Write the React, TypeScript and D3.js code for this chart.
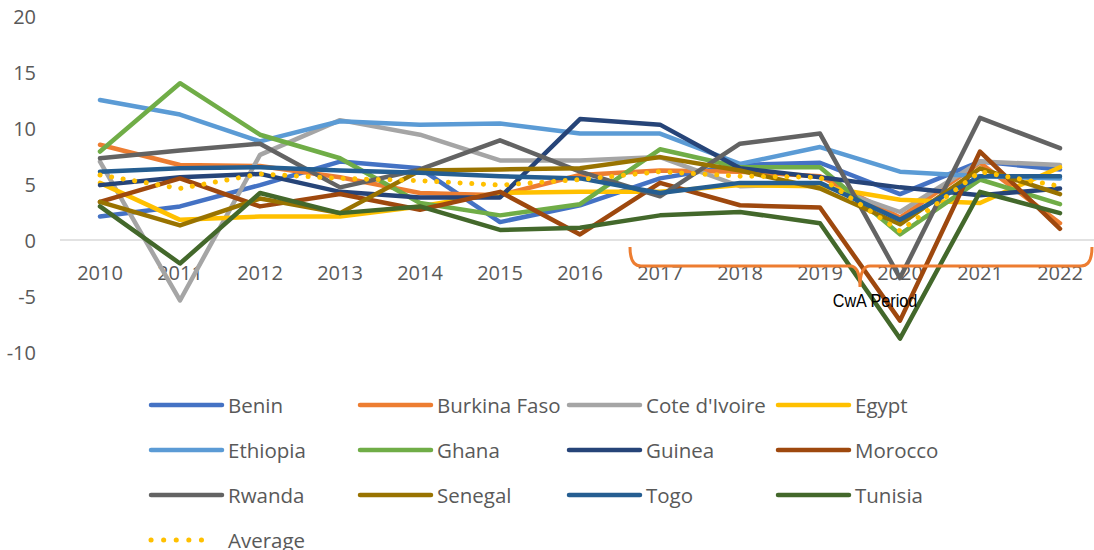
import React from 'react';
import * as d3 from 'd3';

const years = ['2010', '2011', '2012', '2013', '2014', '2015', '2016', '2017', '2018', '2019', '2020', '2021', '2022'];
const yTicks = [-10, -5, 0, 5, 10, 15, 20];

const benin = [2.1, 3.0, 4.9, 7.0, 6.4, 1.6, 3.1, 5.5, 6.7, 6.9, 4.1, 7.0, 6.3];
const burkinaFaso = [8.5, 6.7, 6.6, 5.6, 4.2, 4.0, 5.8, 6.2, 6.1, 5.7, 2.0, 6.9, 1.5];
const coteDIvoire = [7.0, -5.4, 7.6, 10.7, 9.4, 7.1, 7.1, 7.4, 4.8, 5.0, 2.5, 7.0, 6.7];
const egypt = [5.1, 1.8, 2.1, 2.1, 3.0, 4.2, 4.3, 4.3, 4.9, 4.8, 3.6, 3.3, 6.5];
const ethiopia = [12.5, 11.2, 8.8, 10.6, 10.3, 10.4, 9.5, 9.5, 6.8, 8.3, 6.1, 5.7, 5.5];
const ghana = [7.9, 14.0, 9.4, 7.3, 3.3, 2.2, 3.2, 8.1, 6.5, 6.5, 0.5, 5.4, 3.2];
const guinea = [4.9, 5.6, 5.9, 4.3, 3.8, 3.8, 10.8, 10.3, 6.4, 5.6, 4.7, 4.0, 4.6];
const morocco = [3.4, 5.5, 3.0, 4.1, 2.7, 4.3, 0.5, 5.1, 3.1, 2.9, -7.2, 7.9, 1.0];
const rwanda = [7.3, 8.0, 8.6, 4.7, 6.3, 8.9, 6.1, 3.9, 8.6, 9.5, -3.4, 10.9, 8.2];
const senegal = [3.4, 1.3, 3.7, 2.4, 6.2, 6.3, 6.4, 7.4, 6.2, 4.6, 1.4, 6.4, 4.1];
const togo = [6.1, 6.4, 6.5, 6.2, 6.0, 5.7, 5.5, 4.2, 5.1, 5.1, 1.8, 5.7, 5.7];
const tunisia = [3.0, -2.1, 4.2, 2.4, 3.0, 0.9, 1.1, 2.2, 2.5, 1.5, -8.8, 4.3, 2.4];
const average = [5.8, 4.6, 5.9, 5.5, 5.3, 4.9, 5.4, 6.1, 5.7, 5.6, 0.8, 6.1, 4.8];

const series = [
  { name: 'Benin', values: benin, color: '#4472C4' },
  { name: 'Burkina Faso', values: burkinaFaso, color: '#ED7D31' },
  { name: "Cote d'Ivoire", values: coteDIvoire, color: '#A5A5A5' },
  { name: 'Egypt', values: egypt, color: '#FFC000' },
  { name: 'Ethiopia', values: ethiopia, color: '#5B9BD5' },
  { name: 'Ghana', values: ghana, color: '#70AD47' },
  { name: 'Guinea', values: guinea, color: '#264478' },
  { name: 'Morocco', values: morocco, color: '#9E480E' },
  { name: 'Rwanda', values: rwanda, color: '#636363' },
  { name: 'Senegal', values: senegal, color: '#997300' },
  { name: 'Togo', values: togo, color: '#255E91' },
  { name: 'Tunisia', values: tunisia, color: '#43682B' },
  { name: 'Average', values: average, color: '#FFC000', dotted: true },
];

const font = "'Open Sans', sans-serif";
const textColor = '#595959';

export default function App() {
  const width = 1094;
  const height = 550;

  // scale setup
  const x = d3.scalePoint<string>().domain(years).range([100, 1060]);
  const y = d3.scaleLinear().domain([-10, 20]).range([352, 16]);

  const line = d3.line<number>()
    .x((d, i) => x(years[i]) as number)
    .y(d => y(d));

  const lines = series.map((s, i) => (
    <path key={i}
          d={line(s.values) || ''}
          fill="none"
          stroke={s.color}
          strokeWidth={s.dotted ? 5 : 4.5}
          strokeLinejoin="round"
          strokeLinecap="round"
          strokeDasharray={s.dotted ? '0.1 11.6' : undefined}
    />
  ));

  const yLabels = yTicks.map((t, i) => (
    <text key={i} x={36} y={y(t)} textAnchor="end" dominantBaseline="central"
          fontSize={20} fill={textColor} fontFamily={font}>{t}</text>
  ));

  const xLabels = years.map((yr, i) => (
    <text key={i} x={x(yr)} y={272} textAnchor="middle" dominantBaseline="central"
          fontSize={20} fill={textColor} fontFamily={font}>{yr}</text>
  ));

  // legend: 4 columns, rows 45px apart
  const legend = series.map((s, i) => {
    const col = i % 4;
    const row = Math.floor(i / 4);
    const lx = 151 + col * 209;
    const ly = 405 + row * 45;
    return (
      <g key={i} transform={'translate(' + lx + ',' + ly + ')'}>
        <line x1={0} x2={s.dotted ? 63 : 71} y1={0} y2={0}
              stroke={s.color} strokeWidth={s.dotted ? 5 : 4.5} strokeLinecap="round"
              strokeDasharray={s.dotted ? '0.1 12.5' : undefined} />
        <text x={77} y={0} dominantBaseline="central"
              fontSize={20.5} fill={textColor} fontFamily={font}>{s.name}</text>
      </g>
    );
  });

  const y0 = y(0);

  return (
    <div style={{ position: 'absolute', left: 0, top: 0 }}>
      <svg width={width} height={height} style={{ display: 'block', background: '#fff' }}>
        <line x1={60} x2={width} y1={y0} y2={y0} stroke="#D9D9D9" strokeWidth={1.5} />
        {yLabels}
        {xLabels}
        {lines}
        <path d="M630,247 Q630,266 641,266 L850,266 Q860,266 860,287 Q860,266 870,266 L1081,266 Q1092,266 1092,247"
              fill="none" stroke="#ED7D31" strokeWidth={3} />
        <text x={875} y={307} textAnchor="middle" fontSize={18}
              fontFamily="'Liberation Sans', Arial, sans-serif" fill="#000"
              transform="translate(875,0) scale(0.9,1) translate(-875,0)">CwA Period</text>
        {legend}
      </svg>
    </div>
  );
}
